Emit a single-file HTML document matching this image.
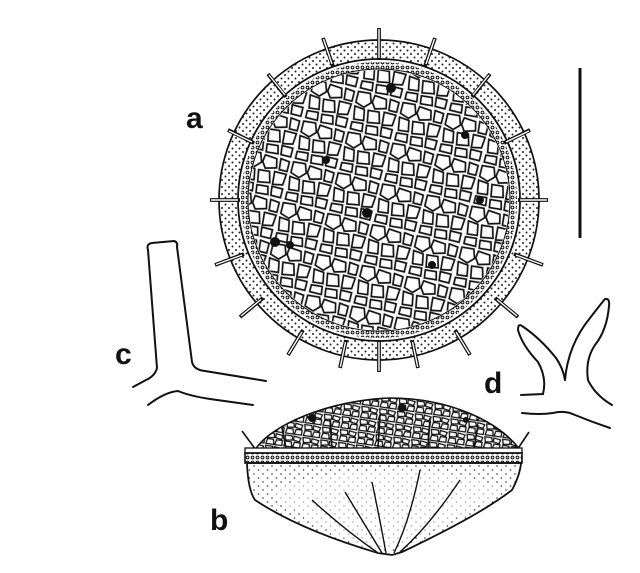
<!DOCTYPE html>
<html><head><meta charset="utf-8"><style>
html,body{margin:0;padding:0;background:#fff;}
svg{display:block;}
text{font-family:"Liberation Sans",sans-serif;font-weight:bold;fill:#111;}
</style></head><body>
<svg width="640" height="573" viewBox="0 0 640 573" xmlns="http://www.w3.org/2000/svg">
<defs>
<pattern id="dots" width="7" height="7" patternUnits="userSpaceOnUse">
<circle cx="1.5" cy="1.5" r="1" fill="#222"/><circle cx="5" cy="5" r="1" fill="#222"/>
</pattern>
<pattern id="fdots" width="9" height="8" patternUnits="userSpaceOnUse">
<circle cx="2" cy="2" r="0.8" fill="#333"/><circle cx="6.5" cy="6" r="0.8" fill="#333"/>
</pattern>
<pattern id="cells" width="46" height="42" patternUnits="userSpaceOnUse" patternTransform="rotate(14)">
<g fill="none" stroke="#111" stroke-width="1.7">
<polygon points="2,2 14,1 17,10 11,16 2,13"/>
<polygon points="19,2 31,3 33,12 22,15 18,9"/>
<polygon points="35,2 44,3 44,13 36,13"/>
<polygon points="2,17 12,18 14,29 4,30"/>
<polygon points="16,18 27,17 30,28 18,30"/>
<polygon points="32,16 44,16 43,27 33,29"/>
<polygon points="3,33 14,32 15,40 3,40"/>
<polygon points="18,33 29,32 31,40 19,41"/>
<polygon points="33,31 44,31 44,40 34,40"/>
</g>
</pattern>
<pattern id="smallcells" width="18" height="13" patternUnits="userSpaceOnUse" patternTransform="rotate(8)">
<g fill="none" stroke="#111" stroke-width="1.3">
<polygon points="1,1 8,1 9,5 2,6"/><polygon points="10,1 17,2 16,6 10,5"/>
<polygon points="2,7 8,7 9,12 1,12"/><polygon points="11,7 17,7 17,12 10,12"/>
</g>
</pattern>
<pattern id="ring" width="5" height="5" patternUnits="userSpaceOnUse">
<circle cx="2.5" cy="2.5" r="1.4" fill="none" stroke="#111" stroke-width="1"/>
</pattern>
</defs>

<!-- a -->
<circle cx="379" cy="200" r="160" fill="url(#dots)" stroke="#111" stroke-width="1.7"/>
<circle cx="379" cy="200" r="141" fill="#fff" stroke="#111" stroke-width="1.8"/>
<circle cx="379" cy="200" r="138" fill="url(#ring)"/>
<circle cx="379" cy="200" r="131" fill="#fff" stroke="#111" stroke-width="1"/>
<circle cx="379" cy="200" r="130" fill="url(#cells)"/>
<g fill="#111">
<circle cx="391" cy="88" r="5"/><circle cx="367" cy="213" r="5"/><circle cx="275" cy="242" r="5"/>
<circle cx="326" cy="160" r="4"/><circle cx="465" cy="135" r="4"/><circle cx="480" cy="200" r="4"/>
<circle cx="432" cy="265" r="4"/><circle cx="290" cy="245" r="4"/>
</g>
<g stroke="#111" stroke-width="3.8">
<line x1="379" y1="28" x2="379" y2="60"/>
<line x1="379" y1="372" x2="379" y2="340"/>
<line x1="210" y1="200" x2="240" y2="200"/>
<line x1="548" y1="200" x2="518" y2="200"/>
<line x1="323" y1="38" x2="333" y2="66"/><line x1="435" y1="38" x2="425" y2="66"/>
<line x1="268" y1="74" x2="286" y2="97"/><line x1="490" y1="74" x2="472" y2="97"/>
<line x1="228" y1="130" x2="254" y2="143"/><line x1="530" y1="130" x2="504" y2="143"/>
<line x1="215" y1="265" x2="244" y2="254"/><line x1="543" y1="265" x2="514" y2="254"/>
<line x1="240" y1="317" x2="263" y2="298"/><line x1="518" y1="317" x2="495" y2="298"/>
<line x1="288" y1="355" x2="303" y2="330"/><line x1="470" y1="355" x2="455" y2="330"/>
<line x1="340" y1="368" x2="346" y2="340"/><line x1="418" y1="368" x2="412" y2="340"/>
</g>
<g stroke="#fff" stroke-width="1.4">
<line x1="379" y1="29" x2="379" y2="58"/>
<line x1="379" y1="371" x2="379" y2="342"/>
<line x1="211" y1="200" x2="238" y2="200"/>
<line x1="547" y1="200" x2="520" y2="200"/>
<line x1="323.5" y1="39" x2="332" y2="64"/><line x1="434.5" y1="39" x2="426" y2="64"/>
<line x1="269" y1="75" x2="285" y2="95"/><line x1="489" y1="75" x2="473" y2="95"/>
<line x1="229" y1="131" x2="252" y2="142"/><line x1="529" y1="131" x2="506" y2="142"/>
<line x1="216" y1="264.5" x2="242" y2="255"/><line x1="542" y1="264.5" x2="516" y2="255"/>
<line x1="241" y1="316" x2="261" y2="299.5"/><line x1="517" y1="316" x2="497" y2="299.5"/>
<line x1="288.5" y1="354" x2="302" y2="332"/><line x1="469.5" y1="354" x2="456" y2="332"/>
<line x1="340.3" y1="367" x2="345.5" y2="342"/><line x1="417.7" y1="367" x2="412.5" y2="342"/>
</g>
<text x="186" y="128" font-size="30">a</text>

<!-- scale bar -->
<line x1="580" y1="68" x2="580" y2="238" stroke="#111" stroke-width="3"/>

<!-- c -->
<g fill="none" stroke="#111" stroke-width="2" stroke-linecap="round">
<path d="M148,250 Q146,244 152,243 L174,241 Q178,242 177,247"/>
<path d="M148,250 L157,368 Q155,376 146,380 L133,387"/>
<path d="M177,247 L192,362 Q194,370 205,371 L266,381"/>
<path d="M148,405 Q165,392 178,391 Q190,396 210,399 L253,405"/>
</g>
<text x="115" y="364" font-size="30">c</text>

<!-- d -->
<g fill="none" stroke="#111" stroke-width="2" stroke-linecap="round">
<path d="M521,395 L543,394 Q547,378 538,362 Q522,345 518,330 Q518,323 522,326 Q540,338 556,358 Q563,368 565,380"/>
<path d="M565,380 Q568,345 590,318 Q600,305 605,299 Q610,298 609,306 Q607,330 595,345 Q585,360 588,380 Q595,395 612,405"/>
<path d="M522,413 Q540,415 553,413 Q565,410 575,415 Q592,422 610,428"/>
</g>
<text x="484" y="393" font-size="30">d</text>

<!-- b -->
<path d="M255,450 C270,425 330,400 390,398 C450,398 500,422 520,450 Z" fill="url(#smallcells)" stroke="#111" stroke-width="1.6"/>
<g fill="#111"><circle cx="312" cy="418" r="4"/><circle cx="402" cy="408" r="4"/><circle cx="466" cy="420" r="3"/></g>
<g stroke="#111" stroke-width="1.6">
<line x1="242" y1="431" x2="256" y2="450"/><line x1="529" y1="432" x2="517" y2="450"/>
<line x1="282" y1="428" x2="286" y2="448"/><line x1="330" y1="420" x2="332" y2="448"/>
<line x1="380" y1="415" x2="378" y2="448"/><line x1="430" y1="418" x2="428" y2="448"/>
<line x1="478" y1="425" x2="474" y2="448"/>
</g>
<rect x="245" y="448" width="277" height="5" fill="#fff" stroke="#111" stroke-width="1.3"/>
<rect x="245" y="453" width="277" height="10" fill="url(#ring)" stroke="#111" stroke-width="1.6"/>
<path d="M247,463 Q248,490 255,500 Q300,530 378,553 L392,555 L402,552 Q480,515 512,490 Q520,475 521,463 Z" fill="url(#fdots)" stroke="#111" stroke-width="1.8"/>
<path d="M268,492 Q320,530 378,553 Q440,530 505,490 Q460,470 400,470 Q320,470 268,492 Z" fill="#fff" stroke="none" opacity="0.55"/>
<g fill="none" stroke="#111" stroke-width="1.4">
<path d="M312,500 Q345,530 378,553"/>
<path d="M345,492 Q362,520 382,553"/>
<path d="M372,482 Q380,520 386,553"/>
<path d="M420,470 Q410,520 394,553"/>
<path d="M460,480 Q430,525 400,552"/>
</g>
<text x="210" y="530" font-size="30">b</text>
</svg>
</body></html>
